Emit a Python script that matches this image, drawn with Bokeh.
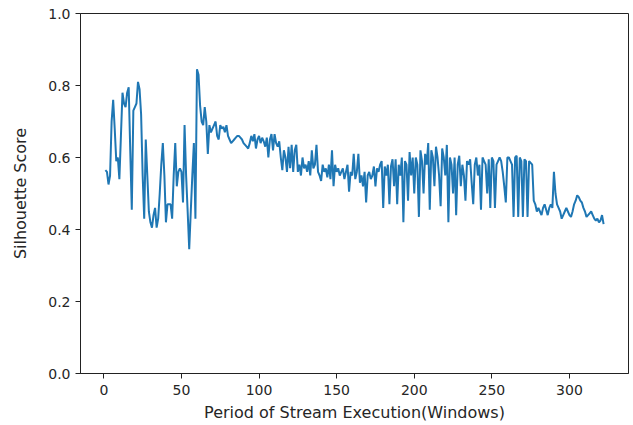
from bokeh.plotting import figure
from bokeh.models import Range1d, FixedTicker, PrintfTickFormatter
from bokeh.embed import file_html
from bokeh.resources import INLINE

windows = list(range(1, 323))

scores = [
    0.565, 0.56, 0.525, 0.55, 0.70, 0.76, 0.68, 0.59, 0.60, 0.54,
    0.66, 0.78, 0.75, 0.74, 0.78, 0.795, 0.62, 0.455, 0.73, 0.74,
    0.75, 0.81, 0.79, 0.72, 0.55, 0.43, 0.65, 0.55, 0.45, 0.42,
    0.405, 0.44, 0.46, 0.405, 0.43, 0.50, 0.58, 0.64, 0.55, 0.42,
    0.47, 0.47, 0.47, 0.43, 0.55, 0.64, 0.52, 0.56, 0.57, 0.56,
    0.475, 0.69, 0.55, 0.45, 0.345, 0.45, 0.55, 0.64, 0.43, 0.845,
    0.83, 0.745, 0.70, 0.69, 0.74, 0.70, 0.61, 0.69, 0.67, 0.68,
    0.69, 0.70, 0.66, 0.65, 0.69, 0.68, 0.685, 0.67, 0.69, 0.66,
    0.65, 0.64, 0.645, 0.65, 0.655, 0.66, 0.66, 0.655, 0.65, 0.64,
    0.635, 0.63, 0.625, 0.64, 0.66, 0.645, 0.665, 0.625, 0.65, 0.66,
    0.64, 0.655, 0.645, 0.63, 0.655, 0.60, 0.65, 0.665, 0.62, 0.665,
    0.64, 0.63, 0.645, 0.60, 0.565, 0.62, 0.60, 0.56, 0.63, 0.57,
    0.635, 0.56, 0.62, 0.635, 0.56, 0.58, 0.55, 0.60, 0.57, 0.58,
    0.56, 0.59, 0.55, 0.62, 0.57, 0.58, 0.635, 0.56, 0.55, 0.535,
    0.58, 0.56, 0.57, 0.545, 0.58, 0.54, 0.62, 0.52, 0.58, 0.56,
    0.57, 0.55, 0.56, 0.57, 0.54, 0.56, 0.58, 0.505, 0.56, 0.55,
    0.61, 0.54, 0.56, 0.61, 0.53, 0.55, 0.52, 0.56, 0.475, 0.55,
    0.56, 0.54, 0.55, 0.575, 0.52, 0.57, 0.56, 0.58, 0.59, 0.46,
    0.575, 0.55, 0.58, 0.47, 0.575, 0.595, 0.52, 0.595, 0.47, 0.58,
    0.55, 0.60, 0.42, 0.59, 0.58, 0.48, 0.615, 0.55, 0.60, 0.50,
    0.60, 0.58, 0.435, 0.62, 0.59, 0.50, 0.61, 0.58, 0.64, 0.455,
    0.62, 0.60, 0.52, 0.63, 0.60, 0.55, 0.465, 0.625, 0.60, 0.55,
    0.635, 0.42, 0.60, 0.58, 0.50, 0.60, 0.44, 0.58, 0.605, 0.52,
    0.58, 0.55, 0.48, 0.59, 0.58, 0.595, 0.53, 0.47, 0.58, 0.60,
    0.55, 0.58, 0.455, 0.60, 0.59, 0.58, 0.50, 0.595, 0.46, 0.60,
    0.59, 0.46, 0.58, 0.59, 0.60, 0.59, 0.56, 0.52, 0.475, 0.60,
    0.60, 0.59, 0.58, 0.435, 0.60, 0.605, 0.435, 0.60, 0.59, 0.435,
    0.595, 0.59, 0.435, 0.59, 0.585, 0.58, 0.48, 0.47, 0.45, 0.46,
    0.45, 0.44, 0.46, 0.47, 0.455, 0.44, 0.46, 0.47, 0.46, 0.56,
    0.50, 0.47, 0.46, 0.45, 0.43, 0.44, 0.45, 0.46, 0.45, 0.44,
    0.435, 0.45, 0.47, 0.48, 0.495, 0.49, 0.48, 0.475, 0.46, 0.45,
    0.435, 0.44, 0.445, 0.45, 0.44, 0.43, 0.425, 0.43, 0.42, 0.425,
    0.44, 0.415,
]

x_ticks = [0, 50, 100, 150, 200, 250, 300]
y_ticks = [0.0, 0.2, 0.4, 0.6, 0.8, 1.0]

FONT = "DejaVu Sans"

p = figure(width=632, height=424, output_backend="svg", toolbar_location=None,
           x_range=Range1d(-15.05, 338.05), y_range=Range1d(0, 1.0),
           min_border_left=80, min_border_right=4, min_border_top=13, min_border_bottom=51)

p.line(windows, scores, line_color="#1f77b4", line_width=2)

p.xgrid.visible = False
p.ygrid.visible = False
p.outline_line_color = "#222222"
p.outline_line_width = 1
p.background_fill_color = "white"
p.border_fill_color = "white"

p.xaxis.ticker = FixedTicker(ticks=x_ticks)
p.yaxis.ticker = FixedTicker(ticks=y_ticks)
p.yaxis.formatter = PrintfTickFormatter(format="%.1f")
p.xaxis.axis_label = "Period of Stream Execution(Windows)"
p.yaxis.axis_label = "Silhouette Score"

for ax in (p.xaxis[0], p.yaxis[0]):
    ax.axis_line_color = "#222222"
    ax.major_tick_line_color = "#222222"
    ax.major_tick_out = 5
    ax.major_tick_in = 0
    ax.minor_tick_line_color = None
    ax.major_label_text_font = FONT
    ax.major_label_text_font_size = "14px"
    ax.major_label_text_color = "#262626"
    ax.axis_label_text_font = FONT
    ax.axis_label_text_font_size = "16px"
    ax.axis_label_text_font_style = "normal"
    ax.axis_label_text_color = "#262626"

p.xaxis.major_label_standoff = 6
p.xaxis.axis_label_standoff = 5
p.yaxis.major_label_standoff = 5
p.yaxis.axis_label_standoff = 15

open("out.html", "w").write(file_html(p, INLINE))
